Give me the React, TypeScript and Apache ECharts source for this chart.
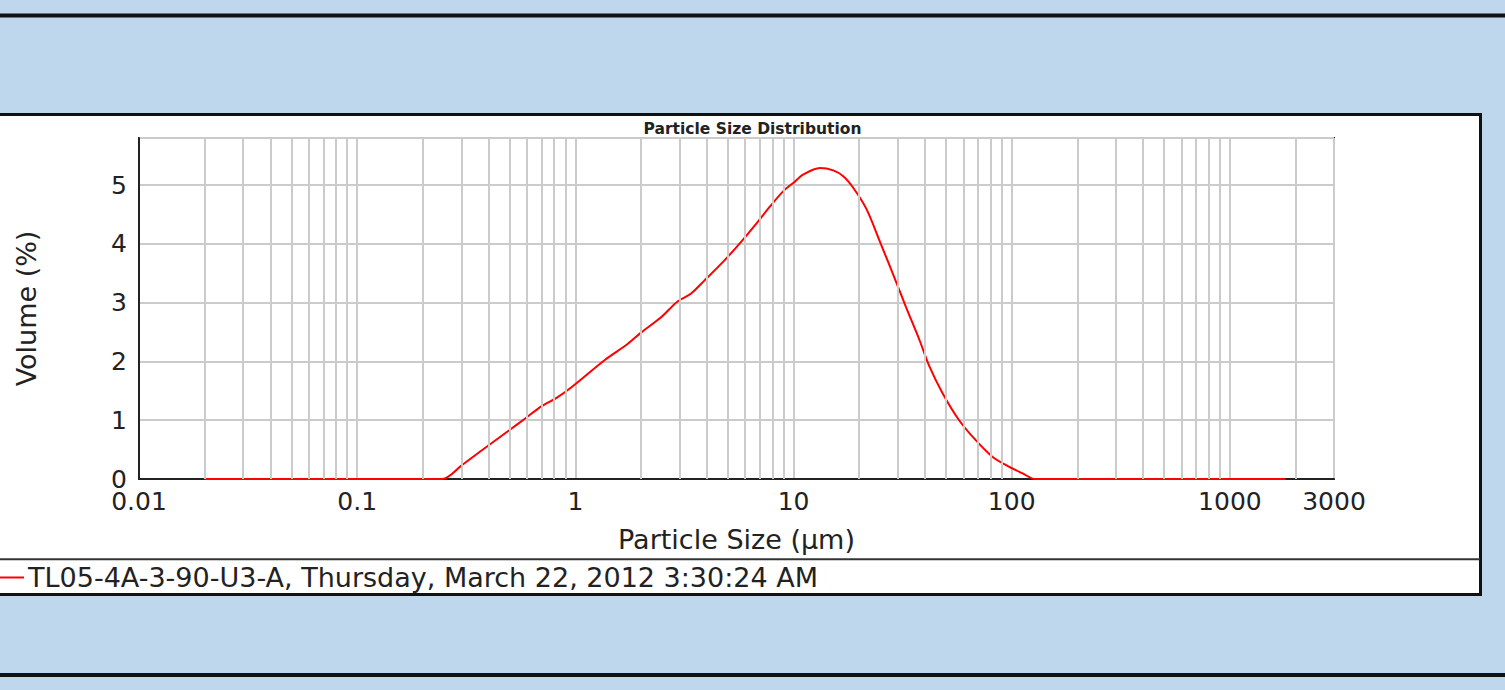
import React, { useEffect, useRef } from "react";
import * as echarts from "echarts";

// Particle size (µm) and volume (%)
const SIZES_UM = [
  0.02, 0.245, 0.303, 0.373, 0.494, 0.589, 0.701, 0.82, 0.96, 1.36, 1.74, 2.0,
  2.47, 2.94, 3.38, 3.89, 4.8, 5.71, 6.81, 7.82, 9.0, 10, 11.1, 13.2, 15.2,
  16.9, 18.8, 21.6, 24.8, 29.6, 32.8, 37.8, 41.9, 48.2, 57.4, 68.4, 81.5, 97,
  111.6, 128, 1800,
];
const VOLUME_PCT = [
  0, 0, 0.24, 0.49, 0.82, 1.03, 1.24, 1.38, 1.56, 2.02, 2.3, 2.49, 2.75, 3.02,
  3.15, 3.37, 3.71, 4.02, 4.36, 4.64, 4.9, 5.04, 5.18, 5.29, 5.25, 5.15, 4.95,
  4.59, 4.05, 3.34, 2.92, 2.36, 1.92, 1.46, 1.0, 0.66, 0.38, 0.21, 0.1, 0, 0,
];
// Minor vertical gridlines (2..9 within each decade)
const MINOR_GRID_UM = [
  0.02, 0.03, 0.04, 0.05, 0.06, 0.07, 0.08, 0.09,
  0.2, 0.3, 0.4, 0.5, 0.6, 0.7, 0.8, 0.9,
  2, 3, 4, 5, 6, 7, 8, 9,
  20, 30, 40, 50, 60, 70, 80, 90,
  200, 300, 400, 500, 600, 700, 800, 900,
  2000,
];
const X_MIN = 0.01;
const X_MAX = 3000;
const Y_MIN = 0;
const Y_MAX = 5.8;
const SERIES_NAME = "TL05-4A-3-90-U3-A, Thursday, March 22, 2012 3:30:24 AM";
const TITLE = "Particle Size Distribution";
const X_NAME = "Particle Size (µm)";
const Y_NAME = "Volume (%)";

const FONT = "DejaVu Sans";
const GRID_COLOR = "#cbcbcb";
const INK = "#222";

export default function App() {
  const ref = useRef<HTMLDivElement>(null);

  useEffect(() => {
    document.body.style.margin = "0";
    const chart = echarts.init(ref.current!, null, { renderer: "svg" });
    chart.setOption({
      animation: false,
      backgroundColor: "#BFD7ED",
      title: {
        text: TITLE,
        left: "center",
        top: 116,
        textStyle: { fontSize: 15.5, fontWeight: "bold", fontFamily: FONT, color: INK },
      },
      legend: {
        data: [SERIES_NAME],
        left: 0,
        top: 564,
        padding: 0,
        icon: "rect",
        itemWidth: 24,
        itemHeight: 2,
        itemGap: 0,
        textStyle: { fontSize: 27, fontFamily: FONT, color: INK, padding: [0, 0, 0, -1] },
      },
      grid: {
        left: 139,
        right: 171,
        top: 138,
        bottom: 211,
        show: true,
        backgroundColor: "#fff",
        borderColor: INK,
        borderWidth: 2,
      },
      xAxis: {
        type: "log",
        logBase: 10,
        min: X_MIN,
        max: X_MAX,
        name: X_NAME,
        nameLocation: "middle",
        nameGap: 47,
        nameTextStyle: { fontSize: 27, fontFamily: FONT, color: INK },
        axisLine: { show: true, lineStyle: { color: INK, width: 2 } },
        axisTick: { show: false },
        axisLabel: {
          fontSize: 25,
          fontFamily: FONT,
          color: INK,
          margin: 13,
          lineHeight: 18,
          showMinLabel: true,
          showMaxLabel: true,
          hideOverlap: false,
          formatter: (v: number) => String(+Number(v).toPrecision(6)),
        },
        splitLine: { show: true, lineStyle: { color: GRID_COLOR, width: 2 } },
      },
      yAxis: {
        type: "value",
        min: Y_MIN,
        max: Y_MAX,
        interval: 1,
        name: Y_NAME,
        nameLocation: "middle",
        nameRotate: 90,
        nameGap: 99,
        nameTextStyle: { fontSize: 27, fontFamily: FONT, color: INK },
        axisLine: { show: true, lineStyle: { color: INK, width: 2 } },
        axisTick: { show: false },
        axisLabel: {
          fontSize: 25,
          fontFamily: FONT,
          color: INK,
          margin: 12,
          lineHeight: 16,
          formatter: (v: number) => (Number.isInteger(v) ? String(v) : ""),
        },
        splitLine: { show: true, lineStyle: { color: GRID_COLOR, width: 2 } },
      },
      series: [
        {
          type: "line",
          name: "minor-grid",
          data: [],
          silent: true,
          z: 1,
          markLine: {
            silent: true,
            symbol: "none",
            label: { show: false },
            emphasis: { disabled: true },
            lineStyle: { color: GRID_COLOR, width: 2, type: "solid" },
            data: MINOR_GRID_UM.map((v) => ({ xAxis: v })),
          },
        },
        {
          type: "line",
          name: SERIES_NAME,
          data: SIZES_UM.map((s, i) => [s, VOLUME_PCT[i]]),
          symbol: "none",
          smooth: 0.3,
          z: 3,
          lineStyle: { color: "#ff0000", width: 2 },
          itemStyle: { color: "#ff0000" },
        },
      ],
      graphic: [
        {
          type: "rect",
          z: -10,
          shape: { x: 0, y: 13.5, width: 1505, height: 4 },
          style: { fill: "#111" },
        },
        {
          type: "rect",
          z: -10,
          shape: { x: 0, y: 673, width: 1505, height: 4 },
          style: { fill: "#111" },
        },
        {
          type: "rect",
          z: -10,
          shape: { x: -4, y: 114.5, width: 1484.5, height: 480 },
          style: { fill: "#fff", stroke: "#111", lineWidth: 3 },
        },
        {
          type: "line",
          z: -9,
          shape: { x1: 0, y1: 559.2, x2: 1480, y2: 559.2 },
          style: { stroke: "#333", lineWidth: 2 },
        },
      ],
    });
    return () => chart.dispose();
  }, []);

  return <div ref={ref} style={{ width: 1505, height: 690 }} />;
}
